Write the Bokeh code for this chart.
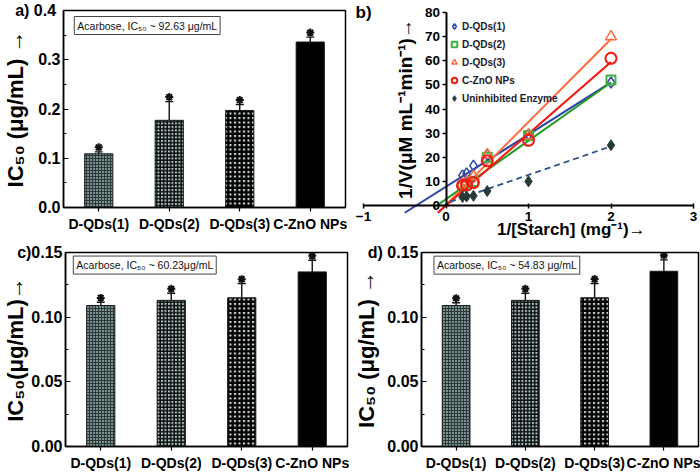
from bokeh.plotting import figure
from bokeh.models import (Range1d, FixedTicker, NumeralTickFormatter, Legend, LegendItem,
                          Label, Whisker, ColumnDataSource, TeeHead)
from bokeh.layouts import column, row
from bokeh.embed import file_html
from bokeh.resources import INLINE

FONT = "Liberation Sans"

# ---------------- data ----------------
categories = ["D-QDs(1)", "D-QDs(2)", "D-QDs(3)", "C-ZnO NPs"]

ic50_a = [0.109, 0.177, 0.197, 0.336]
err_a = [0.004, 0.038, 0.012, 0.010]
ic50_c = [0.109, 0.113, 0.115, 0.135]
err_c = [0.0025, 0.0055, 0.011, 0.009]
ic50_d = [0.109, 0.113, 0.115, 0.1355]
err_d = [0.0022, 0.0055, 0.011, 0.0088]

ticks_a = [0.0, 0.1, 0.2, 0.3, 0.4]
minor_a = [0.05, 0.15, 0.25, 0.35]
ticks_cd = [0.0, 0.05, 0.10, 0.15]
minor_cd = [0.025, 0.075, 0.125]

acarbose_a = "Acarbose, IC\u2085\u2080 ~ 92.63 \u03bcg/mL"
acarbose_c = "Acarbose, IC\u2085\u2080 ~ 60.23\u03bcg/mL"
acarbose_d = "Acarbose, IC\u2085\u2080 ~ 54.83 \u03bcg/mL"

# Lineweaver-Burk panel (b)
inv_starch = [0.2, 0.25, 0.333, 0.5, 1.0, 2.0]
v_dqd1 = [12.5, 13.3, 16.5, 21.0, 29.5, 51.0]
v_dqd2 = [8.0, 8.5, 10.0, 20.0, 29.0, 52.0]
v_dqd3 = [9.0, 10.0, 12.0, 21.0, 29.0, 70.0]
v_czno = [8.3, 8.5, 9.5, 18.5, 27.0, 61.0]
v_unin = [3.5, 3.7, 4.0, 6.0, 10.0, 25.0]

fit_x_dqd1 = [-0.5, 2.0]
fit_y_dqd1 = [-3.0, 51.0]
fit_x_dqd2 = [-0.15, 2.0]
fit_y_dqd2 = [-1.0, 51.0]
fit_x_dqd3 = [-0.08, 2.0]
fit_y_dqd3 = [-2.5, 69.0]
fit_x_czno = [-0.1, 2.0]
fit_y_czno = [-3.0, 59.5]
fit_x_unin = [0.05, 2.0]
fit_y_unin = [1.5, 24.5]

b_xticks = [-1, 0, 1, 2, 3]
b_yticks = [0, 10, 20, 30, 40, 50, 60, 70, 80]
b_xtitle = "1/[Starch] (mg\u207b\u00b9)\u2192"
b_ytitle = "1/V(\u03bcM mL\u207b\u00b9min\u207b\u00b9)\u2192"

# ---------------- styles ----------------
bar_fill = ["#7f8f8e", "#b6c4c4", "#cfdada", "#000000"]
bar_hatch = ["cross", "cross", "cross", "blank"]
bar_hatch_color = ["#2a3a3c", "#0a1212", "#000000", "#000000"]
bar_hatch_scale = [3.0, 3.5, 4.5, 4.0]
bar_hatch_weight = [1.0, 1.6, 2.4, 1.0]


def no_align(p):
    try:
        p.frame_align = False
    except Exception:
        pass


def bar_panel(vals, errs, ticks, minor, fmt, ylabel, box_text, top_label,
              W, H, bl, br, bt, bb, box_px, ylabel_standoff):
    n = len(categories)
    ymax = ticks[-1]
    xs = list(range(1, n + 1))
    p = figure(width=W, height=H, x_range=Range1d(0.5, n + 0.5), y_range=Range1d(0, ymax),
               output_backend="svg", toolbar_location=None, title=None,
               min_border_left=bl, min_border_right=br, min_border_top=bt, min_border_bottom=bb)
    no_align(p)
    fw = W - bl - br
    fh = H - bt - bb

    def dx(px):
        return 0.5 + (px - bl) / fw * n

    def dy(py):
        return ymax - (py - bt) / fh * ymax

    star_gap = 4.5 / fh * ymax
    upper = [v + e for v, e in zip(vals, errs)]
    src = ColumnDataSource(dict(x=xs, top=vals, upper=upper,
                                star=[u + star_gap for u in upper],
                                fill=bar_fill, hatch=bar_hatch, hc=bar_hatch_color,
                                hs=bar_hatch_scale, hw=bar_hatch_weight))
    p.vbar(x="x", top="top", width=0.4, source=src, fill_color="fill", line_color="#1a1a1a",
           line_width=1, hatch_pattern="hatch", hatch_color="hc", hatch_scale="hs",
           hatch_weight="hw")
    w = Whisker(source=src, base="x", upper="upper", lower="top", dimension="height",
                line_color="#111111", line_width=1.4,
                upper_head=TeeHead(size=8, line_width=1.4, line_color="#111111"), lower_head=None)
    p.add_layout(w)
    p.scatter(x="x", y="star", source=src, marker="asterisk", size=8, line_width=2,
              line_color="#111111")

    p.grid.visible = False
    p.outline_line_color = "black"
    p.outline_line_width = 1.5

    p.xaxis.ticker = FixedTicker(ticks=xs)
    p.xaxis.major_label_overrides = {x: c for x, c in zip(xs, categories)}
    p.xaxis.major_tick_in = 0
    p.xaxis.major_tick_out = 4
    p.xaxis.minor_tick_line_color = None
    p.xaxis.major_label_standoff = 4
    p.xaxis.major_label_text_font = FONT
    p.xaxis.major_label_text_font_style = "bold"
    p.xaxis.major_label_text_font_size = "14px"
    p.xaxis.major_label_text_color = "black"

    p.yaxis.ticker = FixedTicker(ticks=ticks, minor_ticks=minor)
    p.yaxis.formatter = NumeralTickFormatter(format=fmt)
    p.yaxis.major_label_overrides = {ymax: top_label}
    p.yaxis.major_tick_in = 5
    p.yaxis.major_tick_out = 0
    p.yaxis.minor_tick_in = 3
    p.yaxis.minor_tick_out = 0
    p.yaxis.major_label_standoff = 3
    p.yaxis.major_label_text_font = FONT
    p.yaxis.major_label_text_font_style = "bold"
    p.yaxis.major_label_text_font_size = "16px"
    p.yaxis.major_label_text_color = "black"
    p.yaxis.axis_label = ylabel
    p.yaxis.axis_label_text_font = FONT
    p.yaxis.axis_label_text_font_style = "bold"
    p.yaxis.axis_label_text_font_size = "22px"
    p.yaxis.axis_label_text_color = "black"
    p.yaxis.axis_label_standoff = ylabel_standoff
    for ax in (p.xaxis, p.yaxis):
        ax.axis_line_color = "black"
        ax.axis_line_width = 1.5
        ax.major_tick_line_color = "black"
        ax.major_tick_line_width = 1.2

    p.add_layout(Label(x=dx(box_px[0]), y=dy(box_px[1]), text=box_text, text_align="left",
                       text_baseline="bottom", text_font=FONT, text_font_size="10.5px",
                       text_color="#111111", background_fill_color="white",
                       border_line_color="#444444", border_line_width=1, padding=3))
    return p


YL = "IC\u2085\u2080 (\u03bcg/mL) \u2192"
pa = bar_panel(ic50_a, err_a, ticks_a, minor_a, "0.0", YL, acarbose_a, "a)  0.4",
               350, 240, 58, 5, 10, 33, (69, 34), -16)
pc = bar_panel(ic50_c, err_c, ticks_cd, minor_cd, "0.00", "IC\u2085\u2080(\u03bcg/mL)\u2192",
               acarbose_c, "c)0.15", 350, 233, 58, 3, 12, 23, (66, 34), -14)
pd = bar_panel(ic50_d, err_d, ticks_cd, minor_cd, "0.00", YL, acarbose_d, "d) 0.15",
               350, 233, 59, 2, 12, 24, (72, 34), -14)

# ---------------- panel b ----------------
W, H = 350, 240
PXU, PYU = 82.5, 2.4125  # pixels per data unit
x_lo = -1 - 13 / PXU
x_hi = x_lo + W / PXU
y_hi = 80 + 12 / PYU
y_lo = y_hi - H / PYU
pb = figure(width=W, height=H, x_range=Range1d(x_lo, x_hi), y_range=Range1d(y_lo, y_hi),
            title=None, output_backend="svg", toolbar_location=None, min_border=0)
no_align(pb)
pb.grid.visible = False
pb.outline_line_color = None


def bx(px):
    return x_lo + px / PXU


def by(py):
    return y_hi - py / PYU


BLUE = "#2b45a8"
GREEN = "#1f9a1f"
GREEN_M = "#3cb43c"
ORANGE = "#ff6a3c"
RED = "#f21a10"
DARK = "#263a3a"
DASH = "#2d4f8a"

pb.line(fit_x_dqd1, fit_y_dqd1, line_color=BLUE, line_width=2)
pb.line(fit_x_dqd2, fit_y_dqd2, line_color=GREEN, line_width=2)
pb.line(fit_x_dqd3, fit_y_dqd3, line_color=ORANGE, line_width=2)
pb.line(fit_x_czno, fit_y_czno, line_color=RED, line_width=2.2)
pb.line(fit_x_unin, fit_y_unin, line_color=DASH, line_width=1.8, line_dash="6 4")

pb.scatter(inv_starch, v_dqd1, marker="diamond", size=11, fill_color=None, line_color=BLUE,
           line_width=1.5, legend_label="D-QDs(1)")
pb.scatter(inv_starch, v_dqd2, marker="square", size=9, fill_color=None, line_color=GREEN_M,
           line_width=2, legend_label="D-QDs(2)")
pb.scatter(inv_starch, v_dqd3, marker="triangle", size=11, fill_color=None, line_color=ORANGE,
           line_width=1.5, legend_label="D-QDs(3)")
pb.scatter(inv_starch, v_czno, marker="circle", size=11, fill_color=None, line_color=RED,
           line_width=2, legend_label="C-ZnO NPs")
pb.scatter(inv_starch, v_unin, marker="diamond", size=11, fill_color=DARK, line_color=DARK,
           line_width=1, legend_label="Uninhibited Enzyme")

lg = pb.legend[0]
lg.location = (106 - 2 - 7, H - (24 - 8 - 2) - 92)
lg.background_fill_alpha = 0
lg.border_line_color = None
lg.padding = 2
lg.margin = 0
lg.spacing = 2
lg.glyph_width = 14
lg.glyph_height = 16
lg.label_height = 16
lg.label_standoff = 1
lg.label_text_font = FONT
lg.label_text_font_style = "bold"
lg.label_text_font_size = "10px"
lg.label_text_color = "#1a1a2a"

# x-axis title (below the x axis, right of centre as in the original)
dummy = pb.scatter(x=[], y=[], size=1, alpha=0)
title_leg = Legend(items=[LegendItem(label=b_xtitle, renderers=[dummy])],
                   location=(146, 0), padding=0, margin=0, glyph_width=1,
                   glyph_height=17, label_height=17, label_standoff=0,
                   background_fill_alpha=0, border_line_color=None,
                   label_text_font=FONT, label_text_font_style="bold",
                   label_text_font_size="17px", label_text_color="black")
pb.add_layout(title_leg)

pb.xaxis.fixed_location = 0
pb.yaxis.fixed_location = 0
pb.xaxis.bounds = (b_xticks[0], b_xticks[-1])
pb.yaxis.bounds = (b_yticks[0], b_yticks[-1])
pb.xaxis.ticker = FixedTicker(ticks=b_xticks)
pb.yaxis.ticker = FixedTicker(ticks=b_yticks)
pb.xaxis.major_tick_in = 2
pb.xaxis.major_tick_out = 3
pb.yaxis.major_tick_in = 0
pb.yaxis.major_tick_out = 4
pb.xaxis.major_label_standoff = 3
pb.yaxis.major_label_standoff = 2
for ax in (pb.xaxis, pb.yaxis):
    ax.minor_tick_line_color = None
    ax.axis_line_color = "black"
    ax.axis_line_width = 2
    ax.major_tick_line_color = "black"
    ax.major_tick_line_width = 1.5
    ax.major_label_text_font = FONT
    ax.major_label_text_font_style = "bold"
    ax.major_label_text_font_size = "13.5px"
    ax.major_label_text_color = "black"
pb.yaxis.axis_label = b_ytitle
pb.yaxis.axis_label_text_font = FONT
pb.yaxis.axis_label_text_font_style = "bold"
pb.yaxis.axis_label_text_font_size = "19px"
pb.yaxis.axis_label_text_color = "black"
pb.yaxis.axis_label_standoff = 6

pb.add_layout(Label(x=bx(5), y=by(12), text="b)", text_align="left", text_baseline="middle",
                    text_font=FONT, text_font_style="bold", text_font_size="17px",
                    text_color="black"))

layout = column(row(pa, pb, spacing=0), row(pc, pd, spacing=0), spacing=0)
open("out.html", "w").write(file_html(layout, INLINE))
